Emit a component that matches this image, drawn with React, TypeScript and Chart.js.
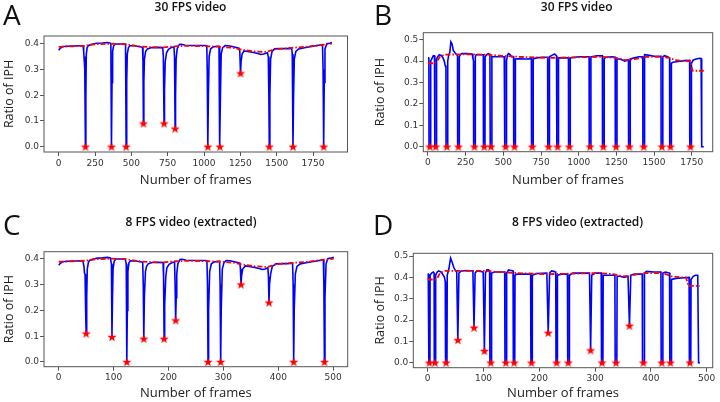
import React, { useEffect, useRef } from "react";
import { Chart, registerables } from "chart.js";
Chart.register(...registerables);

// ---------- Panel A: 30 FPS video ----------
const iphA: [number, number][] = [
  [0, 0.375], [10, 0.382], [25, 0.388], [50, 0.39], [100, 0.391], [150, 0.392], [168, 0.392], [172, 0.37], [175, 0.343], [178, 0.35], [181, 0.3], [184, 0.0], [187, 0.2], [190, 0.36], [196, 0.385], [205, 0.393], [230, 0.398], [260, 0.402], [300, 0.403], [335, 0.405], [352, 0.403], [359, 0.4], [363, 0.0], [367, 0.25], [371, 0.37], [378, 0.392], [390, 0.399], [420, 0.399], [455, 0.399], [460, 0.398], [464, 0.0], [468, 0.25], [472, 0.36], [480, 0.385], [490, 0.392], [520, 0.392], [560, 0.388], [577, 0.386], [580, 0.33], [583, 0.09], [586, 0.25], [590, 0.34], [598, 0.37], [610, 0.38], [640, 0.385], [680, 0.386], [716, 0.385], [720, 0.35], [725, 0.09], [728, 0.22], [733, 0.33], [742, 0.365], [755, 0.378], [775, 0.385], [793, 0.387], [797, 0.35], [801, 0.07], [804, 0.2], [808, 0.34], [815, 0.38], [830, 0.397], [845, 0.398], [870, 0.394], [920, 0.393], [1000, 0.393], [1019, 0.392], [1022, 0.3], [1026, 0.0], [1030, 0.2], [1035, 0.35], [1045, 0.38], [1060, 0.387], [1090, 0.39], [1103, 0.39], [1106, 0.3], [1109, 0.0], [1113, 0.2], [1118, 0.36], [1128, 0.385], [1145, 0.393], [1170, 0.392], [1200, 0.388], [1240, 0.383], [1246, 0.37], [1251, 0.285], [1255, 0.33], [1262, 0.36], [1275, 0.372], [1300, 0.37], [1340, 0.366], [1370, 0.362], [1390, 0.358], [1410, 0.36], [1436, 0.365], [1442, 0.35], [1446, 0.2], [1449, 0.0], [1453, 0.2], [1458, 0.34], [1468, 0.37], [1485, 0.38], [1520, 0.381], [1560, 0.381], [1603, 0.382], [1607, 0.36], [1612, 0.0], [1616, 0.2], [1621, 0.34], [1632, 0.37], [1650, 0.38], [1700, 0.385], [1750, 0.39], [1800, 0.395], [1815, 0.395], [1819, 0.3], [1823, 0.0], [1827, 0.25], [1832, 0.38], [1845, 0.4], [1865, 0.402], [1880, 0.405],
];
const trendA: [number, number][] = [
  [0, 0.388], [100, 0.39], [180, 0.392], [250, 0.398], [350, 0.4], [460, 0.398], [560, 0.389], [700, 0.385], [800, 0.39], [900, 0.392], [1030, 0.39], [1110, 0.388], [1200, 0.384], [1260, 0.377], [1350, 0.37], [1430, 0.368], [1480, 0.378], [1600, 0.384], [1700, 0.388], [1800, 0.395], [1880, 0.4],
];
const starFramesA = [184, 363, 464, 583, 725, 801, 1026, 1109, 1251, 1449, 1612, 1823];
const starIphA = [0, 0, 0, 0.09, 0.09, 0.07, 0, 0, 0.285, 0, 0, 0];

// ---------- Panel B: 30 FPS video ----------
const iphB: [number, number][] = [
  [0, 0.415], [4, 0.415], [6, 0.41], [7, 0], [17, 0], [18, 0.4], [25, 0.41], [35, 0.425], [43, 0.425], [45, 0.41], [46, 0], [56, 0], [57, 0.41], [64, 0.42], [75, 0.43], [90, 0.425], [100, 0.415], [108, 0.4], [114, 0.38], [119, 0.37], [120, 0], [130, 0], [131, 0.4], [138, 0.43], [145, 0.44], [152, 0.49], [160, 0.48], [168, 0.45], [178, 0.44], [190, 0.43], [196, 0.43], [197, 0], [207, 0], [208, 0.42], [215, 0.43], [225, 0.435], [260, 0.435], [293, 0.433], [298, 0.415], [302, 0.4], [303, 0], [313, 0], [314, 0.42], [320, 0.43], [350, 0.43], [367, 0.43], [368, 0], [378, 0], [379, 0.42], [390, 0.43], [400, 0.435], [411, 0.432], [413, 0], [423, 0], [424, 0.42], [440, 0.42], [480, 0.42], [506, 0.42], [509, 0.36], [510, 0], [520, 0], [521, 0.4], [528, 0.43], [535, 0.435], [545, 0.43], [555, 0.42], [568, 0.42], [569, 0], [579, 0], [580, 0.41], [600, 0.411], [650, 0.41], [686, 0.411], [687, 0], [697, 0], [698, 0.41], [720, 0.415], [760, 0.418], [794, 0.418], [795, 0], [805, 0], [806, 0.42], [825, 0.428], [840, 0.433], [853, 0.425], [855, 0], [865, 0], [866, 0.415], [900, 0.415], [932, 0.415], [933, 0], [943, 0], [944, 0.415], [1000, 0.42], [1069, 0.42], [1070, 0], [1080, 0], [1081, 0.42], [1120, 0.425], [1157, 0.425], [1158, 0], [1168, 0], [1169, 0.41], [1180, 0.418], [1220, 0.42], [1242, 0.418], [1243, 0], [1253, 0], [1254, 0.41], [1270, 0.41], [1290, 0.405], [1305, 0.4], [1320, 0.403], [1330, 0.405], [1331, 0], [1341, 0], [1342, 0.41], [1370, 0.415], [1400, 0.42], [1425, 0.42], [1426, 0], [1436, 0], [1437, 0.43], [1460, 0.428], [1500, 0.423], [1546, 0.422], [1547, 0], [1557, 0], [1558, 0.42], [1570, 0.425], [1590, 0.42], [1603, 0.415], [1604, 0], [1614, 0], [1615, 0.39], [1625, 0.395], [1660, 0.398], [1700, 0.402], [1736, 0.404], [1737, 0], [1747, 0], [1748, 0.39], [1760, 0.405], [1780, 0.41], [1800, 0.413], [1812, 0.412], [1816, 0], [1830, 0],
];
const trendB: [number, number][] = [
  [0, 0.39], [45, 0.39], [60, 0.4], [80, 0.42], [110, 0.43], [250, 0.432], [400, 0.43], [480, 0.425], [600, 0.42], [800, 0.415], [1000, 0.418], [1150, 0.42], [1250, 0.415], [1310, 0.405], [1380, 0.41], [1450, 0.42], [1550, 0.42], [1600, 0.415], [1640, 0.405], [1700, 0.4], [1740, 0.4], [1755, 0.355], [1830, 0.355],
];
const starFramesB = [12, 51, 125, 202, 308, 373, 418, 515, 574, 692, 800, 860, 938, 1075, 1163, 1248, 1336, 1431, 1552, 1609, 1742];
const starIphB = [0, 0, 0, 0, 0, 0, 0, 0, 0, 0, 0, 0, 0, 0, 0, 0, 0, 0, 0, 0, 0];

// ---------- Panel C: 8 FPS video (extracted) ----------
const iphC: [number, number][] = [
  [0, 0.375], [3, 0.382], [7, 0.388], [15, 0.39], [30, 0.391], [44, 0.392], [46, 0.37], [47, 0.343], [48, 0.34], [49, 0.2], [50, 0.11], [51, 0.25], [52, 0.36], [54, 0.385], [56, 0.393], [62, 0.398], [70, 0.402], [80, 0.403], [89, 0.405], [94, 0.403], [96, 0.38], [97, 0.097], [98, 0.25], [99, 0.36], [101, 0.39], [104, 0.399], [112, 0.399], [121, 0.399], [123, 0.38], [124, 0.0], [125, 0.2], [126, 0.35], [128, 0.385], [131, 0.392], [140, 0.391], [149, 0.388], [153, 0.386], [154, 0.3], [155, 0.09], [156, 0.25], [158, 0.35], [160, 0.37], [163, 0.38], [170, 0.385], [181, 0.386], [190, 0.385], [191, 0.33], [192, 0.09], [193, 0.22], [195, 0.33], [197, 0.365], [201, 0.378], [207, 0.385], [211, 0.387], [212, 0.3], [213, 0.161], [214, 0.25], [215, 0.34], [217, 0.38], [221, 0.397], [225, 0.398], [232, 0.394], [250, 0.393], [266, 0.393], [270, 0.392], [271, 0.3], [272, 0.0], [273, 0.2], [275, 0.35], [278, 0.38], [283, 0.387], [291, 0.39], [293, 0.39], [294, 0.3], [295, 0.0], [296, 0.2], [298, 0.36], [301, 0.385], [305, 0.393], [312, 0.392], [320, 0.388], [330, 0.383], [331, 0.36], [332, 0.3], [333, 0.33], [335, 0.36], [340, 0.372], [347, 0.37], [357, 0.366], [365, 0.362], [371, 0.358], [376, 0.36], [381, 0.365], [382, 0.33], [383, 0.23], [384, 0.3], [386, 0.34], [389, 0.37], [396, 0.38], [405, 0.381], [416, 0.381], [426, 0.382], [427, 0.3], [428, 0.0], [429, 0.2], [431, 0.34], [434, 0.37], [440, 0.38], [453, 0.385], [467, 0.39], [480, 0.395], [482, 0.395], [483, 0.3], [484, 0.0], [485, 0.25], [487, 0.38], [490, 0.4], [495, 0.402], [501, 0.405],
];
const trendC: [number, number][] = [
  [0, 0.388], [27, 0.39], [48, 0.392], [67, 0.398], [93, 0.4], [123, 0.398], [149, 0.389], [187, 0.385], [213, 0.39], [240, 0.392], [275, 0.39], [296, 0.388], [320, 0.384], [336, 0.377], [360, 0.37], [381, 0.368], [395, 0.378], [427, 0.384], [453, 0.388], [480, 0.395], [501, 0.4],
];
const starFramesC = [50, 97, 124, 155, 192, 213, 272, 295, 332, 383, 428, 484];
const starIphC = [0.11, 0.097, 0, 0.09, 0.09, 0.161, 0, 0, 0.3, 0.23, 0, 0];

// ---------- Panel D: 8 FPS video (extracted) ----------
const iphD: [number, number][] = [
  [0, 0.416], [1, 0.416], [2, 0.41], [2.2, 0], [4, 0], [4.3, 0.41], [7, 0.42], [10, 0.425], [11.5, 0.42], [11.8, 0], [14, 0], [14.3, 0.41], [17, 0.425], [20, 0.43], [24, 0.425], [28, 0.41], [30, 0.4], [31.5, 0.38], [32, 0], [34.5, 0], [35, 0.41], [38, 0.44], [41, 0.49], [44, 0.47], [47, 0.445], [50, 0.43], [52, 0.43], [54, 0.106], [56, 0.42], [60, 0.43], [70, 0.432], [81, 0.43], [83, 0.164], [85, 0.42], [88, 0.43], [95, 0.428], [99.5, 0.425], [101.6, 0.055], [103.5, 0.42], [106, 0.435], [109, 0.435], [111, 0.43], [111.5, 0], [114, 0], [114.5, 0.42], [120, 0.425], [130, 0.425], [138, 0.425], [138.5, 0], [141, 0], [141.5, 0.42], [145, 0.435], [148, 0.433], [153, 0.43], [153.5, 0], [156, 0], [156.5, 0.41], [160, 0.415], [175, 0.415], [184.5, 0.415], [185, 0], [187, 0], [187.5, 0.41], [195, 0.418], [213.5, 0.42], [216, 0.14], [218.5, 0.42], [222, 0.43], [226, 0.428], [229.5, 0.425], [230, 0], [232, 0], [232.5, 0.41], [240, 0.415], [250.5, 0.415], [251, 0], [253.5, 0], [254, 0.41], [260, 0.42], [290, 0.42], [292, 0.058], [294, 0.41], [300, 0.42], [311, 0.42], [311.5, 0], [314, 0], [314.5, 0.41], [320, 0.41], [335.5, 0.41], [336, 0], [339, 0], [339.5, 0.405], [345, 0.405], [352, 0.4], [359, 0.405], [361.6, 0.173], [364, 0.41], [370, 0.415], [384.5, 0.415], [385, 0], [388, 0], [388.5, 0.42], [392, 0.428], [405, 0.425], [418, 0.425], [418.5, 0], [421, 0], [421.5, 0.42], [426, 0.425], [433.5, 0.42], [434, 0], [436.5, 0], [437, 0.39], [445, 0.395], [460, 0.398], [468.5, 0.4], [469, 0], [471.5, 0], [472, 0.39], [476, 0.405], [480, 0.41], [484, 0.41], [485.5, 0], [488, 0],
];
const trendD: [number, number][] = [
  [0, 0.39], [15, 0.39], [18, 0.4], [22, 0.42], [30, 0.43], [100, 0.43], [130, 0.425], [160, 0.42], [213, 0.415], [270, 0.418], [307, 0.42], [333, 0.415], [350, 0.405], [368, 0.41], [387, 0.42], [413, 0.42], [427, 0.415], [437, 0.405], [453, 0.4], [463, 0.4], [467, 0.36], [488, 0.36],
];
const starFramesD = [3, 13, 33, 54, 83, 101.6, 113, 140, 155, 186, 216, 231, 252, 292, 312.5, 337.5, 361.6, 386.5, 419.4, 435, 470];
const starIphD = [0, 0, 0, 0.106, 0.164, 0.055, 0, 0, 0, 0, 0.14, 0, 0, 0.058, 0, 0, 0.173, 0, 0, 0, 0];

// ---------- Ticks and texts ----------
const xTicks30 = [0, 250, 500, 750, 1000, 1250, 1500, 1750];
const xTicks8 = [0, 100, 200, 300, 400, 500];
const yTicksAC = [0, 0.1, 0.2, 0.3, 0.4];
const yTicksBD = [0, 0.1, 0.2, 0.3, 0.4, 0.5];
const panelLetters = ["A", "B", "C", "D"];
const panelTitles = ["30 FPS video", "30 FPS video", "8 FPS video (extracted)", "8 FPS video (extracted)"];
const xAxisTitle = "Number of frames";
const yAxisTitle = "Ratio of IPH";

function makeStar(): HTMLCanvasElement {
  const c = document.createElement("canvas");
  c.width = 10;
  c.height = 10;
  const ctx = c.getContext("2d")!;
  ctx.fillStyle = "#ff0000";
  ctx.beginPath();
  for (let i = 0; i < 10; i++) {
    const r = i % 2 === 0 ? 4.8 : 2.0;
    const a = -Math.PI / 2 + (i * Math.PI) / 5;
    const px = 5 + r * Math.cos(a);
    const py = 5.3 + r * Math.sin(a);
    if (i === 0) ctx.moveTo(px, py);
    else ctx.lineTo(px, py);
  }
  ctx.closePath();
  ctx.fill();
  return c;
}

const framePlugin = {
  id: "frameBox",
  afterDatasetsDraw(chart: any) {
    const { ctx, chartArea } = chart;
    ctx.save();
    ctx.strokeStyle = "#555";
    ctx.lineWidth = 1;
    ctx.strokeRect(chartArea.left, chartArea.top, chartArea.right - chartArea.left, chartArea.bottom - chartArea.top);
    ctx.restore();
  },
};

type PanelProps = {
  left: number; top: number; width: number; height: number;
  area: { left: number; top: number; right: number; bottom: number };
  xMin: number; xMax: number; yMin: number; yMax: number;
  xTicks: number[]; yTicks: number[];
  series: [number, number][]; trend: [number, number][];
  starX: number[]; starY: number[];
  yTitlePad: number; xTitlePad: number;
};

function Panel(p: PanelProps) {
  const ref = useRef<HTMLCanvasElement | null>(null);
  useEffect(() => {
    if (!ref.current) return;
    const star = makeStar();
    const tickFont = { family: "'DejaVu Sans', sans-serif", size: 9 };
    const chart = new Chart(ref.current, {
      type: "line",
      data: {
        datasets: [
          {
            label: "minima",
            data: p.starX.map((x, i) => ({ x, y: p.starY[i] })),
            showLine: false,
            pointStyle: star as any,
            pointRadius: 5,
            borderColor: "red",
            backgroundColor: "red",
          },
          {
            label: "trend",
            data: p.trend.map(([x, y]) => ({ x, y })),
            borderColor: "#ff0000",
            borderWidth: 1.8,
            borderDash: [5, 2, 1.5, 2],
            pointRadius: 0,
            tension: 0,
          },
          {
            label: "IPH",
            data: p.series.map(([x, y]) => ({ x, y })),
            borderColor: "#0000ff",
            borderWidth: 1.6,
            pointRadius: 0,
            tension: 0,
          },
        ],
      },
      options: {
        animation: false,
        responsive: false,
        events: [],
        layout: { padding: { left: 0, top: p.area.top, right: p.width - p.area.right, bottom: 0 } },
        plugins: { legend: { display: false }, tooltip: { enabled: false }, title: { display: false } },
        scales: {
          x: {
            type: "linear",
            min: p.xMin,
            max: p.xMax,
            afterFit: (s: any) => { s.height = p.height - p.area.bottom; },
            afterBuildTicks: (s: any) => { s.ticks = p.xTicks.map((v) => ({ value: v })); },
            grid: { display: true, drawOnChartArea: false, drawTicks: true, tickLength: 4, color: "#555" },
            border: { display: false },
            ticks: { font: tickFont, color: "#333", padding: 2, maxRotation: 0, autoSkip: false, callback: (v: any) => String(v) },
            title: { display: true, text: xAxisTitle, font: { family: "'Open Sans', sans-serif", size: 13 }, color: "#222", padding: { top: 0, bottom: p.xTitlePad } },
          },
          y: {
            min: p.yMin,
            max: p.yMax,
            afterFit: (s: any) => { s.width = p.area.left; },
            afterBuildTicks: (s: any) => { s.ticks = p.yTicks.map((v) => ({ value: v })); },
            grid: { display: true, drawOnChartArea: false, drawTicks: true, tickLength: 4, color: "#555" },
            border: { display: false },
            ticks: { font: tickFont, color: "#333", padding: 1, autoSkip: false, callback: (v: any) => Number(v).toFixed(1) },
            title: { display: true, text: yAxisTitle, font: { family: "'Open Sans', sans-serif", size: 12.5 }, color: "#222", padding: { top: p.yTitlePad, bottom: 0 } },
          },
        },
      },
      plugins: [framePlugin],
    });
    return () => chart.destroy();
  }, []);
  return (
    <canvas
      ref={ref}
      width={p.width}
      height={p.height}
      style={{ position: "absolute", left: p.left, top: p.top, width: p.width, height: p.height }}
    />
  );
}

const letterStyle: React.CSSProperties = {
  position: "absolute",
  fontFamily: "'Open Sans', sans-serif",
  fontSize: 28,
  lineHeight: "28px",
  color: "#111",
};
const titleStyle: React.CSSProperties = {
  position: "absolute",
  fontFamily: "'Open Sans', sans-serif",
  fontWeight: 600,
  fontSize: 12,
  lineHeight: "14px",
  color: "#111",
  transform: "translateX(-50%)",
  whiteSpace: "nowrap",
};

export default function App() {
  return (
    <div style={{ position: "fixed", left: 0, top: 0, width: 720, height: 402, background: "#fff", overflow: "hidden" }}>
      <Panel left={0} top={0} width={360} height={200}
        area={{ left: 44, top: 36, right: 347.5, bottom: 152 }}
        xMin={-101} xMax={1987} yMin={-0.0206} yMax={0.43}
        xTicks={xTicks30} yTicks={yTicksAC}
        series={iphA} trend={trendA} starX={starFramesA} starY={starIphA}
        yTitlePad={1.5} xTitlePad={12} />
      <Panel left={360} top={0} width={360} height={200}
        area={{ left: 63.3, top: 32.7, right: 352.7, bottom: 151.7 }}
        xMin={-31} xMax={1889} yMin={-0.0234} yMax={0.5327}
        xTicks={xTicks30} yTicks={yTicksBD}
        series={iphB} trend={trendB} starX={starFramesB} starY={starIphB}
        yTitlePad={12.5} xTitlePad={12} />
      <Panel left={0} top={200} width={360} height={202}
        area={{ left: 44, top: 51.7, right: 347.7, bottom: 166.7 }}
        xMin={-26.8} xMax={526.4} yMin={-0.0182} yMax={0.427}
        xTicks={xTicks8} yTicks={yTicksAC}
        series={iphC} trend={trendC} starX={starFramesC} starY={starIphC}
        yTitlePad={1.5} xTitlePad={1} />
      <Panel left={360} top={200} width={360} height={202}
        area={{ left: 53.3, top: 53.3, right: 352.7, bottom: 167.7 }}
        xMin={-25.8} xMax={510.8} yMin={-0.0234} yMax={0.5127}
        xTicks={xTicks8} yTicks={yTicksBD}
        series={iphD} trend={trendD} starX={starFramesD} starY={starIphD}
        yTitlePad={12.5} xTitlePad={1} />
      <div style={{ ...letterStyle, left: 3, top: 0 }}>{panelLetters[0]}</div>
      <div style={{ ...letterStyle, left: 374, top: 0 }}>{panelLetters[1]}</div>
      <div style={{ ...letterStyle, left: 3, top: 210 }}>{panelLetters[2]}</div>
      <div style={{ ...letterStyle, left: 373, top: 210 }}>{panelLetters[3]}</div>
      <div style={{ ...titleStyle, left: 190.5, top: 0 }}>{panelTitles[0]}</div>
      <div style={{ ...titleStyle, left: 576.7, top: 0 }}>{panelTitles[1]}</div>
      <div style={{ ...titleStyle, left: 191, top: 214.5 }}>{panelTitles[2]}</div>
      <div style={{ ...titleStyle, left: 577.5, top: 214.5 }}>{panelTitles[3]}</div>
    </div>
  );
}
